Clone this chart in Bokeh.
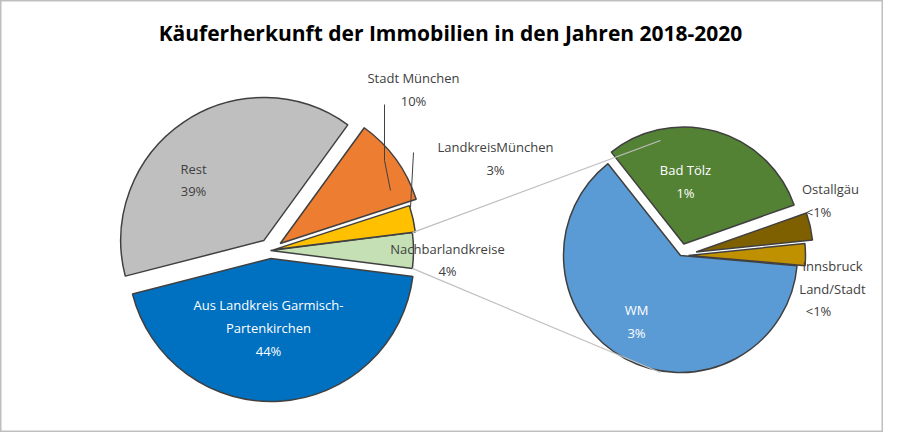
import numpy as np
from bokeh.plotting import figure
from bokeh.models import Range1d
from bokeh.embed import file_html
from bokeh.resources import INLINE
from bokeh.core.properties import value

W, H = 883, 432
main_labels = ["Aus Landkreis Garmisch-Partenkirchen", "Rest", "Stadt München", "LandkreisMünchen", "Nachbarlandkreise"]
main_values = [44, 39, 10, 3, 4]
main_colors = ["#0070C0", "#BFBFBF", "#ED7D31", "#FFC000", "#C5E0B4"]
main_explode = [8, 12, 12, 3, 0]
sub_labels = ["WM", "Bad Tölz", "Ostallgäu", "Innsbruck Land/Stadt"]
sub_values = [2.5, 1.2, 0.15, 0.12]
sub_colors = ["#5B9BD5", "#548235", "#7F6000", "#BF9000"]
sub_explode = [0, 12, 16, 8]

p = figure(width=W, height=H, output_backend="svg", toolbar_location=None,
           x_range=Range1d(0, W), y_range=Range1d(0, H), min_border=0,
           outline_line_color="#BFBFBF", outline_line_width=2)
p.axis.visible = False
p.grid.visible = False

def Y(py):
    return H - py

# main pie
cx, cy, r = 270, Y(250), 143
frac = np.array(main_values, float) / sum(main_values) * 2 * np.pi
order = [4, 3, 2, 1, 0]
ang = -frac[4] / 2
for i in order:
    s, e = ang, ang + frac[i]
    mid = (s + e) / 2
    x0 = cx + main_explode[i] * np.cos(mid)
    y0 = cy + main_explode[i] * np.sin(mid)
    p.wedge(x=[x0], y=[y0], radius=r, start_angle=s, end_angle=e,
            fill_color=main_colors[i], line_color="#404040", line_width=1.5)
    if i == 4:
        top = (cx + r * np.cos(e), cy + r * np.sin(e))
        bot = (cx + r * np.cos(s), cy + r * np.sin(s))
    ang = e

# sub pie
sx, sy, sr = 680, Y(255), 117
sfrac = np.array(sub_values, float) / sum(sub_values) * 2 * np.pi
ang = -np.radians(5)
for i in [3, 2, 1, 0]:
    s, e = ang, ang + sfrac[i]
    mid = (s + e) / 2
    x0 = sx + sub_explode[i] * np.cos(mid)
    y0 = sy + sub_explode[i] * np.sin(mid)
    p.wedge(x=[x0], y=[y0], radius=sr, start_angle=s, end_angle=e,
            fill_color=sub_colors[i], line_color="#404040", line_width=1.5)
    ang = e

# connectors
p.line([top[0], 660], [top[1], Y(140)], line_color="#BFBFBF", line_width=1.2)
p.line([bot[0], 660], [bot[1], Y(372)], line_color="#BFBFBF", line_width=1.2)
# leader lines
p.line([384, 384, 390], [Y(104), Y(160), Y(190)], line_color="#404040", line_width=1)
p.line([413, 410], [Y(152), Y(207)], line_color="#404040", line_width=1)

font = value("Open Sans")
def txt(x, y, s, color="#404040", size="13px", style="normal"):
    p.text(x=[x], y=[Y(y)], text=[s], text_align="center", text_baseline="middle",
           text_color=color, text_font=font, text_font_size=size, text_font_style=style)

txt(450, 32, "Käuferherkunft der Immobilien in den Jahren 2018-2020", "#000000", "21px", "bold")
txt(193, 168, "Rest"); txt(193, 190, "39%")
txt(413, 77, "Stadt München"); txt(413, 100, "10%")
txt(495, 146, "LandkreisMünchen"); txt(495, 169, "3%")
txt(447, 248, "Nachbarlandkreise"); txt(447, 270, "4%")
txt(268, 304, "Aus Landkreis Garmisch-", "white"); txt(268, 327, "Partenkirchen", "white"); txt(268, 350, "44%", "white")
txt(685, 169, "Bad Tölz", "white"); txt(685, 192, "1%", "white")
txt(636, 309, "WM", "white"); txt(636, 332, "3%", "white")
txt(830, 188, "Ostallgäu"); txt(818, 211, "<1%")
txt(832, 265, "Innsbruck"); txt(832, 288, "Land/Stadt"); txt(818, 310, "<1%")

open("out.html", "w").write(file_html(p, INLINE))
